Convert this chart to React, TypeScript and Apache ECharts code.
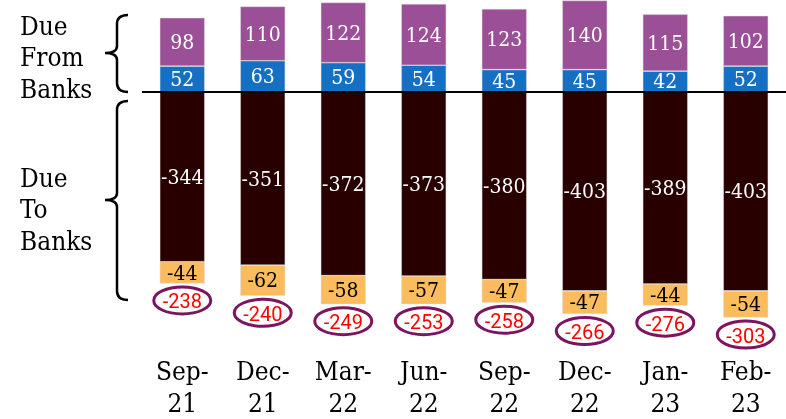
import React, { useEffect, useRef } from "react";
import * as echarts from "echarts";

const categories = ["Sep-\n21", "Dec-\n21", "Mar-\n22", "Jun-\n22", "Sep-\n22", "Dec-\n22", "Jan-\n23", "Feb-\n23"];
const dueFromA = [52, 63, 59, 54, 45, 45, 42, 52];
const dueFromB = [98, 110, 122, 124, 123, 140, 115, 102];
const dueToA = [-344, -351, -372, -373, -380, -403, -389, -403];
const dueToB = [-44, -62, -58, -57, -47, -47, -44, -54];
const netTotals = [-238, -240, -249, -253, -258, -266, -276, -303];

const FONT = "DejaVu Serif Condensed";

echarts.graphic.registerShape(
  "braceTop",
  echarts.graphic.extendPath(
    "M128,15 Q117,15 117,24 L117,46 Q117,53 105,53 Q117,53 117,60 L117,83 Q117,92 128,92",
    {}
  )
);
echarts.graphic.registerShape(
  "braceBottom",
  echarts.graphic.extendPath(
    "M128,101 Q117,101 117,110 L117,193 Q117,200 105,200 Q117,200 117,207 L117,291 Q117,300 128,300",
    {}
  )
);

export default function App() {
  const ref = useRef<HTMLDivElement>(null);
  useEffect(() => {
    if (!ref.current) return;
    const chart = echarts.init(ref.current, null, { renderer: "svg" });
    const ellipseData = categories.map((_, i) => [i, dueToA[i] + dueToB[i], netTotals[i]]);
    const segLabel = (color: string) => ({
      show: true,
      position: "inside",
      color,
      fontFamily: FONT,
      fontSize: 21,
    });
    const barStyle = (color: string) => ({ color, borderColor: "rgba(220,220,220,0.8)", borderWidth: 0.6 });
    chart.setOption({
      animation: false,
      grid: { left: 142, width: 648, top: 0, height: 323 },
      xAxis: {
        type: "category",
        data: categories,
        axisLine: { show: false },
        axisTick: { show: false },
        axisLabel: { color: "#000", fontFamily: FONT, fontSize: 26, lineHeight: 32, margin: 36 },
      },
      yAxis: {
        type: "value",
        min: -460,
        max: 186,
        show: false,
        splitLine: { show: false },
      },
      series: [
        {
          type: "bar",
          stack: "s",
          data: dueFromA,
          barWidth: 45,
          itemStyle: barStyle("#1570C4"),
          label: segLabel("#fff"),
          markLine: {
            silent: true,
            symbol: ["none", "none"],
            label: { show: false },
            lineStyle: { color: "#000", width: 2, type: "solid" },
            data: [{ yAxis: 0 }],
          },
        },
        {
          type: "bar",
          stack: "s",
          data: dueFromB,
          barWidth: 45,
          itemStyle: barStyle("#9B4F96"),
          label: segLabel("#fff"),
        },
        {
          type: "bar",
          stack: "s",
          data: dueToA,
          barWidth: 45,
          itemStyle: barStyle("#280000"),
          label: segLabel("#fff"),
        },
        {
          type: "bar",
          stack: "s",
          data: dueToB,
          barWidth: 45,
          itemStyle: barStyle("#FBBC5E"),
          label: segLabel("#000"),
        },
        {
          type: "custom",
          data: ellipseData,
          renderItem: (params: any, api: any) => {
            const i = api.value(0);
            const bottom = api.value(1);
            const total = api.value(2);
            const p = api.coord([i, bottom]);
            const cy = p[1] + 17;
            return {
              type: "group",
              children: [
                {
                  type: "ellipse",
                  shape: { cx: p[0], cy, rx: 28.5, ry: 13.5 },
                  style: { fill: "#fff", stroke: "#7B1560", lineWidth: 3 },
                },
                {
                  type: "text",
                  style: {
                    text: String(total),
                    x: p[0],
                    y: cy + 1,
                    align: "center",
                    verticalAlign: "middle",
                    textAlign: "center",
                    textVerticalAlign: "middle",
                    fill: "#FF0000",
                    font: `20px Roboto`,
                  },
                },
              ],
            };
          },
        },
      ],
      graphic: [
        { type: "braceTop", x: 0, y: 0, style: { fill: "none", stroke: "#000", lineWidth: 2.5 } },
        { type: "braceBottom", x: 0, y: 0, style: { fill: "none", stroke: "#000", lineWidth: 2.5 } },
        {
          type: "text",
          left: 20,
          top: 10,
          style: { text: "Due\nFrom\nBanks", fill: "#000", font: `26px "${FONT}"`, lineHeight: 31.5 },
        },
        {
          type: "text",
          left: 20,
          top: 162,
          style: { text: "Due\nTo\nBanks", fill: "#000", font: `26px "${FONT}"`, lineHeight: 31.5 },
        },
      ],
    });
    return () => chart.dispose();
  }, []);
  return <div ref={ref} style={{ position: "fixed", left: 0, top: 0, width: 786, height: 419 }} />;
}
